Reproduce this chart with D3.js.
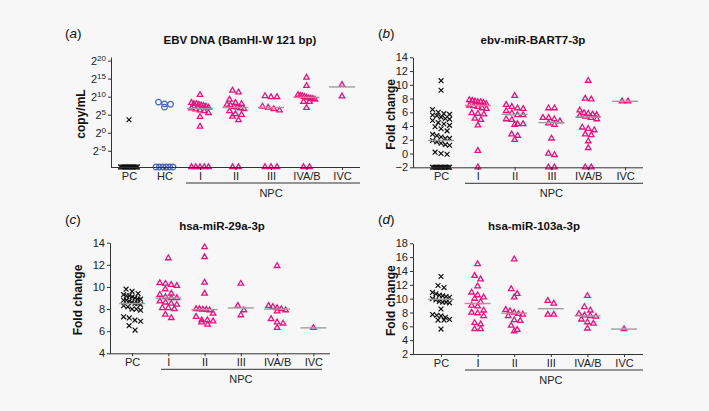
<!DOCTYPE html>
<html>
<head>
<meta charset="utf-8">
<script src="https://cdn.jsdelivr.net/npm/d3@7"></script>
<style>
  body { margin: 0; background: #f7f7f7; }
  svg { display: block; font-family: "Liberation Sans", Arial, sans-serif; }
</style>
</head>
<body>
<svg id="chart" width="709" height="411"></svg>
<script>
const groupsDNA = ["PC", "HC", "I", "II", "III", "IVA/B", "IVC"];
const groupsFC = ["PC", "I", "II", "III", "IVA/B", "IVC"];

// (a) log2(copy/mL); null = undetected, drawn on the axis
const dnaValues = [
  [3.6, null, null, null, null, null, null, null, null, null, null, null, null, null, null, null, null],
  [8.5, 8.0, 7.9, 7.1, null, null, null, null, null, null],
  [10.5, 8.3, 8.0, 8.0, 7.8, 7.6, 7.5, 7.3, 7.0, 6.8, 6.5, 6.2, 6.0, 5.5, 4.4, 1.7, null, null, null, null, null],
  [11.7, 11.2, 9.2, 8.3, 8.0, 7.8, 7.6, 7.2, 7.0, 6.8, 6.6, 6.0, 5.2, 5.0, 4.5, 3.5, null, null],
  [10.2, 9.9, 9.9, 7.3, 7.0, 6.6, 6.2, null, null, null],
  [15.3, 13.0, 10.5, 10.3, 10.2, 10.0, 9.8, 9.6, 9.5, 9.4, 9.2, 8.6, 8.6, 6.9, null, null],
  [13.3, 10.1]
];
const dnaMedians = [null, null, 6.7, 7.0, 7.0, 9.8, 12.7];

// (b) ebv-miR-BART7-3p fold change
const bart7Values = [
  [10.6, 9.2, 6.4, 6.0, 5.8, 5.7, 5.6, 5.5, 5.3, 5.1, 5.0, 4.8, 4.5, 4.3, 4.1, 3.9, 3.6, 3.3, 2.8, 2.6, 2.4, 2.2, 2.2, 1.9, 1.7, 1.5, 1.3, 1.2, 0.2, 0.0, -0.1, -2, -2, -2, -2, -2, -2, -2, -2, -2, -2, -2, -2, -2, -2],
  [7.8, 7.7, 7.6, 7.5, 7.5, 7.4, 7.2, 7.0, 6.9, 6.8, 6.6, 6.5, 5.9, 5.8, 5.7, 5.1, 4.9, 4.1, 0.4, -2],
  [8.4, 7.1, 6.8, 6.6, 6.5, 6.2, 5.9, 5.6, 5.6, 5.0, 4.9, 4.3, 4.2, 4.3, 2.8, 2.6, 2.0],
  [6.6, 6.6, 5.2, 5.2, 5.0, 4.7, 4.4, 4.2, 2.2, 0.0, -0.2, -2, -2],
  [10.6, 8.0, 7.9, 6.3, 5.9, 5.8, 5.7, 5.6, 5.5, 5.4, 5.2, 5.0, 3.8, 3.6, 3.4, 2.8, 2.7, 1.8, 0.8, -2, -2],
  [7.6, 7.6]
];
const bart7Medians = [1.9, 7.0, 5.7, 4.5, 5.3, 7.6];

// (c) hsa-miR-29a-3p fold change
const mir29aValues = [
  [9.8, 9.6, 9.4, 9.3, 9.2, 9.2, 9.1, 9.0, 8.9, 8.9, 8.8, 8.8, 8.7, 8.6, 8.5, 8.5, 8.4, 8.3, 8.2, 8.0, 8.0, 7.9, 7.3, 7.2, 7.0, 6.9, 6.5, 6.1],
  [12.6, 10.35, 10.3, 10.2, 10.1, 9.8, 9.4, 9.3, 9.1, 9.0, 9.0, 8.7, 8.6, 8.5, 8.4, 8.1, 8.1, 8.0, 7.5, 7.2],
  [13.6, 12.7, 10.4, 9.4, 8.0, 8.0, 7.95, 7.95, 7.9, 7.6, 7.3, 7.0, 7.0, 6.9, 6.8, 6.6],
  [10.3, 8.3, 7.9, 7.45],
  [11.9, 8.3, 8.2, 8.1, 8.0, 7.9, 7.8, 7.1, 6.8, 6.7, 6.3],
  [6.3]
];
const mir29aMedians = [8.5, 9.0, 7.95, 8.1, 8.0, 6.3];

// (d) hsa-miR-103a-3p fold change
const mir103aValues = [
  [13.2, 11.9, 11.6, 10.9, 10.7, 10.5, 10.4, 10.3, 10.2, 10.0, 9.8, 9.6, 9.5, 9.5, 9.4, 8.5, 7.7, 7.6, 7.5, 7.3, 7.0, 6.9, 6.9, 5.6],
  [15.0, 13.3, 12.8, 11.8, 10.9, 10.5, 10.2, 10.0, 9.5, 9.0, 8.9, 8.3, 8.0, 7.9, 7.5, 6.5, 6.3, 5.6, 5.6],
  [15.7, 11.4, 10.7, 10.2, 8.4, 8.2, 8.0, 7.8, 7.7, 7.5, 6.9, 6.8, 6.1, 5.5, 5.3],
  [9.7, 9.3, 7.7, 7.7],
  [10.4, 8.8, 8.3, 7.8, 7.6, 7.5, 7.4, 7.0, 6.6, 6.4, 5.7],
  [5.6]
];
const mir103aMedians = [9.9, 9.3, 7.9, 8.55, 7.5, 5.6];

const pink = "#e5137f";
const svg = d3.select("#chart");

drawPanel({
  tag: "a", title: "EBV DNA (BamHI-W 121 bp)", ylabel: "copy/mL",
  groups: groupsDNA, values: dnaValues, medians: dnaMedians,
  left: 111, right: 360, top: 57, bottom: 167, pad: 0.507, align: 0.5,
  domain: [-9.5, 21], ticks: [-5, 0, 5, 10, 15, 20], power: true,
  titleX: 240, tagX: 65, ylabelX: 85, npc: [186, 360]
});

drawPanel({
  tag: "b", title: "ebv-miR-BART7-3p", ylabel: "Fold change",
  groups: groupsFC, values: bart7Values, medians: bart7Medians,
  left: 413, right: 643, top: 57.3, bottom: 167.3, pad: 0.625, align: 0.61,
  domain: [-2, 14], ticks: d3.range(-2, 15, 2),
  titleX: 533, tagX: 378, ylabelX: 395, npc: [465, 643]
});

drawPanel({
  tag: "c", title: "hsa-miR-29a-3p", ylabel: "Fold change",
  groups: groupsFC, values: mir29aValues, medians: mir29aMedians,
  left: 110, right: 330, top: 242.7, bottom: 353.3, pad: 0.534, align: 0.57,
  domain: [4, 14], ticks: d3.range(4, 15, 2),
  titleX: 222, tagX: 65, ylabelX: 82, npc: [161, 322]
});

drawPanel({
  tag: "d", title: "hsa-miR-103a-3p", ylabel: "Fold change",
  groups: groupsFC, values: mir103aValues, medians: mir103aMedians,
  left: 413, right: 643, top: 243.3, bottom: 354, pad: 0.642, align: 0.596,
  domain: [2, 18], ticks: d3.range(2, 19, 2),
  titleX: 534, tagX: 378, ylabelX: 395, npc: [465, 643]
});

// Prism-like scatter: points of close value share a row, centred on the group
function spread(vals, y) {
  const pts = vals.map(v => ({ v, y: y(v) })).sort((a, b) => a.y - b.y);
  const rows = [];
  pts.forEach(p => {
    const r = rows[rows.length - 1];
    if (r && p.y - r[0].y < 5) r.push(p); else rows.push([p]);
  });
  rows.forEach(r => {
    const step = r.length > 1 ? Math.min(6, 17 / (r.length - 1)) : 0;
    r.forEach((p, i) => p.dx = (i - (r.length - 1) / 2) * step);
  });
  return pts;
}

function drawPanel(o) {
  const g = svg.append("g");
  const low = o.domain[0];

  const x = d3.scalePoint()
    .domain(o.groups)
    .range([o.left, o.right])
    .padding(o.pad)
    .align(o.align);

  const y = d3.scaleLinear()
    .domain(o.domain)
    .range([o.bottom, o.top]);

  const yv = v => y(v == null ? low : v);

  // points first, axes and text on top
  o.groups.forEach((grp, i) => {
    const cx = x(grp);
    const pts = spread(o.values[i], yv);
    const sel = g.append("g").selectAll("g").data(pts).join("g")
      .attr("transform", d => `translate(${cx + d.dx},${d.y})`);

    if (grp === "PC") {
      sel.append("path")
        .attr("d", "M-2.4,-2.4L2.4,2.4M-2.4,2.4L2.4,-2.4")
        .attr("stroke", "#111").attr("stroke-width", 1.2);
    } else if (grp === "HC") {
      sel.append("circle")
        .attr("r", 2.8)
        .attr("fill", "none").attr("stroke", "#4463b3").attr("stroke-width", 1.2);
    } else {
      sel.append("path")
        .attr("d", d3.symbol(d3.symbolTriangle, 13))
        .attr("fill", "none").attr("stroke", pink).attr("stroke-width", 1.3);
    }

    const m = o.medians[i];
    if (m != null) {
      g.append("line")
        .attr("x1", cx - 13).attr("x2", cx + 13)
        .attr("y1", y(m)).attr("y2", y(m))
        .attr("stroke", "#9d9d9d").attr("stroke-width", 1.4);
    }
  });

  // axes
  const ya = g.append("g")
    .attr("transform", `translate(${o.left},0)`)
    .call(d3.axisLeft(y).tickValues(o.ticks).tickSize(3).tickSizeOuter(0).tickPadding(2));

  if (o.power) {
    ya.selectAll(".tick text").each(function (d) {
      const t = d3.select(this).text(null);
      t.append("tspan").text("2");
      t.append("tspan").attr("dy", "-0.5em").attr("font-size", "8px").text(d);
    });
  }

  const xa = g.append("g")
    .attr("transform", `translate(0,${o.bottom})`)
    .call(d3.axisBottom(x).tickSize(3).tickSizeOuter(0).tickPadding(2));

  xa.select(".domain").attr("d", `M${o.left},0.5H${o.right}`);

  [ya, xa].forEach(a => {
    a.attr("color", "#222");
    a.selectAll("path,line").style("stroke", "#333");
    a.selectAll("text")
      .style("fill", "#222")
      .attr("font-size", "11px")
      .attr("font-family", "Liberation Sans, Arial, sans-serif");
  });

  // NPC bracket
  g.append("line")
    .attr("x1", o.npc[0]).attr("x2", o.npc[1])
    .attr("y1", o.bottom + 16).attr("y2", o.bottom + 16)
    .attr("stroke", "#333");

  g.append("text")
    .attr("x", x("III")).attr("y", o.bottom + 30)
    .attr("text-anchor", "middle").attr("font-size", "11px").style("fill", "#222")
    .text("NPC");

  // titles
  g.append("text")
    .attr("x", o.titleX).attr("y", o.top - 13)
    .attr("text-anchor", "middle").attr("font-size", "11.5px").attr("font-weight", "bold")
    .style("fill", "#111")
    .text(o.title);

  const tag = g.append("text")
    .attr("x", o.tagX).attr("y", o.top - 19)
    .attr("font-size", "13.5px").style("fill", "#111");
  tag.append("tspan").text("(");
  tag.append("tspan").attr("font-style", "italic").text(o.tag);
  tag.append("tspan").text(")");

  g.append("text")
    .attr("transform", `translate(${o.ylabelX},${(o.top + o.bottom) / 2 + 2}) rotate(-90)`)
    .attr("text-anchor", "middle").attr("font-size", "12px").attr("font-weight", "bold")
    .style("fill", "#111")
    .text(o.ylabel);
}
</script>
</body>
</html>
